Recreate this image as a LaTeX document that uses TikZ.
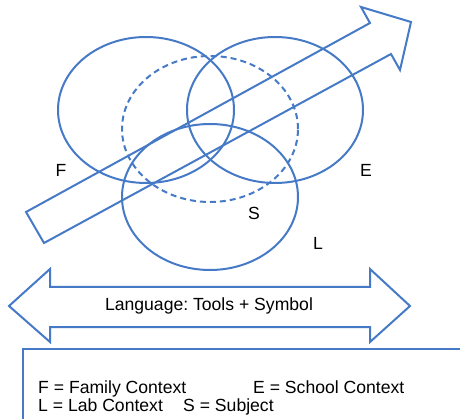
\documentclass[tikz,border=0pt]{standalone}
\usepackage{fontspec}
\setmainfont{Liberation Sans}
\usetikzlibrary{shapes.geometric}

\definecolor{ctxblue}{RGB}{70,122,198}
\frenchspacing

\begin{document}
\begin{tikzpicture}[x=1pt, y=-1pt,
        ctx/.style={ellipse, draw=ctxblue, line width=2pt,
                    minimum width=176pt, minimum height=146pt, inner sep=0pt},
        subj/.style={ctx, dashed, dash pattern=on 6pt off 4pt},
        outline/.style={draw=ctxblue, line width=2pt, line join=miter},
        lab/.style={font=\fontsize{17.6}{20}\selectfont, inner sep=0pt}]
      \useasboundingbox (0,0) rectangle (460,419);
      \clip (0,0) rectangle (460,419);
      % the four contexts
      \node[ctx] (fam) at (146,110) {};
      \node[ctx] (sch) at (275,110) {};
      \node[subj] (sub) at (210,129) {};
      \node[ctx] (labctx) at (210,197) {};
      \node[lab] (f) at (61,170) {F};
      \node[lab] (e) at (366,170) {E};
      \node[lab] (s) at (254,213) {S};
      \node[lab] (l) at (318,243) {L};
      % development arrow
      \draw[outline] (26,212) -- (370,23) -- (361,7) -- (411,22)
                     -- (400,70) -- (391,54) -- (44,243) -- cycle;
      % language arrow
      \draw[outline] (9,306) -- (50,269) -- (50,287) -- (370,287) -- (370,269)
                     -- (410,306) -- (370,342) -- (370,327) -- (50,327)
                     -- (50,342) -- cycle;
      \node[lab] (lang) at (209,306) {Language: Tools + Symbol};
      % legend
      \draw[draw=ctxblue, line width=1.5pt] (23,349) rectangle (480,440);
      \node[lab, anchor=base west] (kf) at (38,393) {F = Family Context};
      \node[lab, anchor=base west] (ke) at (253,393) {E = School Context};
      \node[lab, anchor=base west] (kl) at (38,411) {L = Lab Context};
      \node[lab, anchor=base west] (ks) at (183,411) {S = Subject};
    \end{tikzpicture}
\end{document}
